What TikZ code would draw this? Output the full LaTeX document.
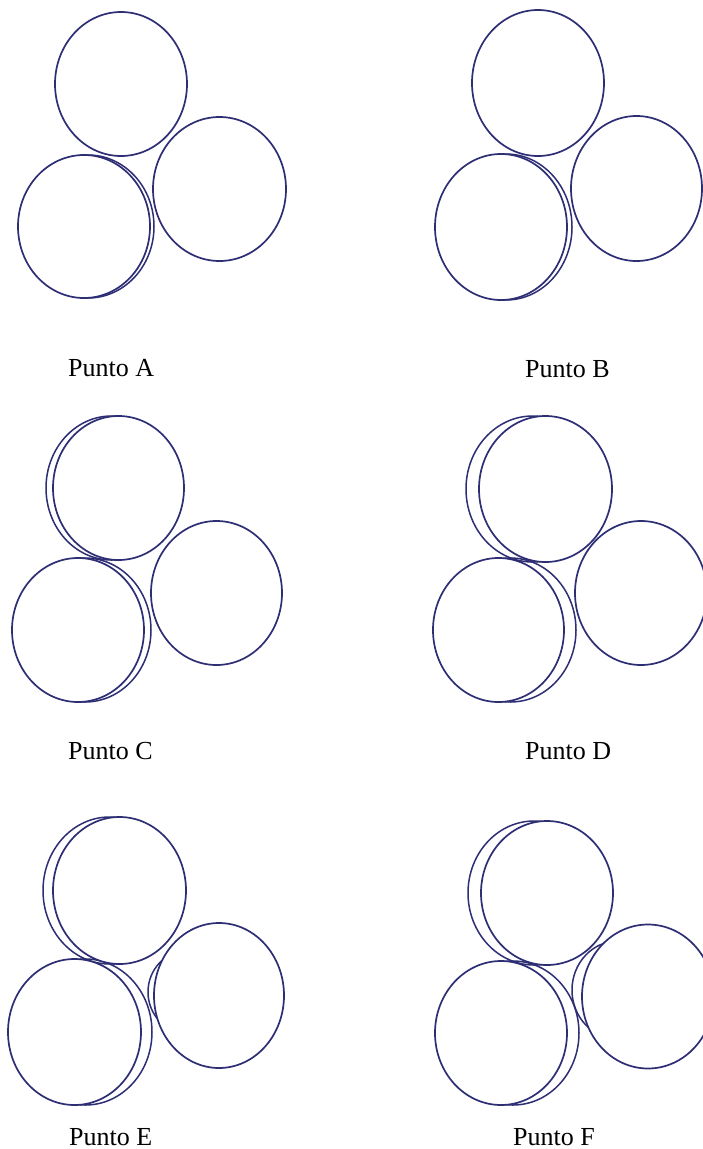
\documentclass[tikz,border=0pt]{standalone}
\usepackage{fontspec}
\setmainfont{Liberation Serif}
\usetikzlibrary{calc}
\definecolor{ink}{RGB}{46,46,116}
\tikzset{
  disc/.style={draw=ink, line width=1.7pt, fill=white},
  ghost/.style={draw=ink, line width=1.5pt},
  lab/.style={anchor=base west, inner sep=0pt, font=\fontsize{26}{31}\selectfont}
}
% #1 cx, #2 cy, #3 rx, #4 ry
\newcommand\maindisc[4]{\path[disc] (#1,#2) ellipse [x radius=#3pt, y radius=#4pt];}
% #1 cx, #2 cy, #3 rx, #4 ry, #5 dx, #6 dy
\newcommand\ghostdisc[6]{\path[ghost] ($(#1,#2)+(#5,#6)$) ellipse [x radius=#3pt, y radius=#4pt];}
\begin{document}
\begin{tikzpicture}[x=1pt,y=-1pt]
\useasboundingbox (0,0) rectangle (703,1149);
\fill[white] (0,0) rectangle (703,1149);
\clip (0,0) rectangle (703,1149);
% ---------- Punto A ----------
\ghostdisc{84}{226.5}{66}{71.5}{4}{0}
\maindisc{121}{84}{66}{72}
\maindisc{219.5}{189}{66.5}{72}
\maindisc{84}{226.5}{66}{71.5}
\node[lab] (la) at (68,376) {Punto A};
% ---------- Punto B ----------
\ghostdisc{501}{227}{66}{73}{5}{0}
\maindisc{538}{83}{66}{73}
\maindisc{636.5}{188.5}{65.5}{72.5}
\maindisc{501}{227}{66}{73}
\node[lab] (lb) at (525,377) {Punto B};
% ---------- Punto C ----------
\ghostdisc{118.5}{488}{65.5}{72}{-7}{0}
\ghostdisc{78}{630}{66}{72}{7}{0}
\maindisc{118.5}{488}{65.5}{72}
\maindisc{216.5}{593}{65.5}{72}
\maindisc{78}{630}{66}{72}
\node[lab] (lc) at (68,759) {Punto C};
% ---------- Punto D ----------
\ghostdisc{545.5}{489}{66.5}{73}{-13}{0}
\ghostdisc{498.5}{630}{65.5}{72}{12}{0}
\maindisc{545.5}{489}{66.5}{73}
\maindisc{641}{593}{66}{72}
\maindisc{498.5}{630}{65.5}{72}
\node[lab] (ld) at (525,759) {Punto D};
% ---------- Punto E ----------
\ghostdisc{119.5}{890.5}{66.5}{73.5}{-10}{0}
\ghostdisc{187}{992}{39}{41}{0}{0}
\ghostdisc{74.5}{1032}{66.5}{73}{11}{0}
\maindisc{119.5}{890.5}{66.5}{73.5}
\maindisc{219}{995.5}{65}{72.5}
\maindisc{74.5}{1032}{66.5}{73}
\node[lab] (le) at (69,1145) {Punto E};
% ---------- Punto F ----------
\ghostdisc{547}{893}{66}{72}{-13}{0}
\ghostdisc{618}{990}{46}{49}{0}{0}
\ghostdisc{501}{1033}{66}{72}{12}{0}
\maindisc{547}{893}{66}{72}
\maindisc{648}{996.5}{66}{72}
\maindisc{501}{1033}{66}{72}
\node[lab] (lf) at (513,1145) {Punto F};
\end{tikzpicture}
\end{document}
